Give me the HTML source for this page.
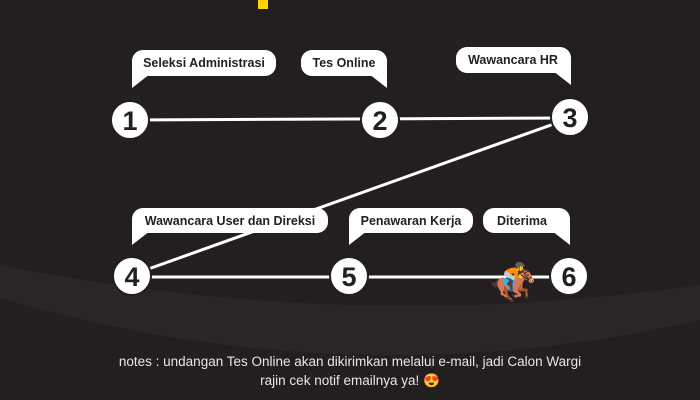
<!DOCTYPE html>
<html><head><style>
body{margin:0;width:700px;height:400px;overflow:hidden;background:#231f20;font-family:"Liberation Sans",sans-serif}
</style></head><body>
<svg width="700" height="400" xmlns="http://www.w3.org/2000/svg" style="position:absolute;left:0;top:0">
<rect width="700" height="400" fill="#231f20"/>
<path d="M0,265 Q350,335 700,285 L700,320 Q350,400 0,298 Z" fill="#2a2627"/>
<rect x="258" y="0" width="10" height="9" fill="#ffd400"/>
<g stroke="#fff" stroke-width="3">
<line x1="130" y1="120" x2="570" y2="118"/>
<line x1="565" y1="120" x2="140" y2="272"/>
<line x1="132" y1="277" x2="569" y2="277"/>
</g>
<g fill="#fff">
<rect x="132" y="50" width="144" height="26" rx="11"/><polygon points="132,62 132,88 150,74"/>
<rect x="301" y="50" width="86" height="26" rx="11"/><polygon points="387,62 387,88 369,74"/>
<rect x="456" y="47" width="115" height="26" rx="11"/><polygon points="571,59 571,85 553,71"/>
<rect x="132" y="208" width="196" height="25" rx="11"/><polygon points="132,220 132,245 150,231"/>
<rect x="349" y="208" width="124" height="25" rx="11"/><polygon points="349,220 349,245 367,231"/>
<rect x="483" y="208" width="87" height="25" rx="11"/><polygon points="570,220 570,245 552,231"/>
</g>
<g font-size="12.5" font-weight="bold" fill="#231f20" text-anchor="middle">
<text x="204" y="67">Seleksi Administrasi</text>
<text x="344" y="67">Tes Online</text>
<text x="513" y="64">Wawancara HR</text>
<text x="230" y="225">Wawancara User dan Direksi</text>
<text x="411" y="225">Penawaran Kerja</text>
<text x="522" y="225">Diterima</text>
</g>
<g fill="#fff" stroke="#231f20" stroke-width="2">
<circle cx="130" cy="120" r="19"/><circle cx="380" cy="120" r="19"/><circle cx="570" cy="117" r="19"/>
<circle cx="132" cy="276" r="19"/><circle cx="349" cy="276" r="19"/><circle cx="569" cy="276" r="19"/>
</g>
<g font-size="27" font-weight="bold" fill="#231f20" text-anchor="middle">
<text x="130" y="130">1</text><text x="380" y="130">2</text><text x="570" y="127">3</text>
<text x="132" y="286">4</text><text x="349" y="286">5</text><text x="569" y="286">6</text>
</g>
<text transform="translate(1026,0) scale(-1,1)" x="513" y="295" font-size="38" text-anchor="middle">🏇</text>
<g font-size="13.5" fill="#e6e6e6" text-anchor="middle">
<text x="350" y="366">notes : undangan Tes Online akan dikirimkan melalui e-mail, jadi Calon Wargi</text>
<text x="350" y="385">rajin cek notif emailnya ya! <tspan fill="#f5b82e">😍</tspan></text>
</g>
</svg>
</body></html>
